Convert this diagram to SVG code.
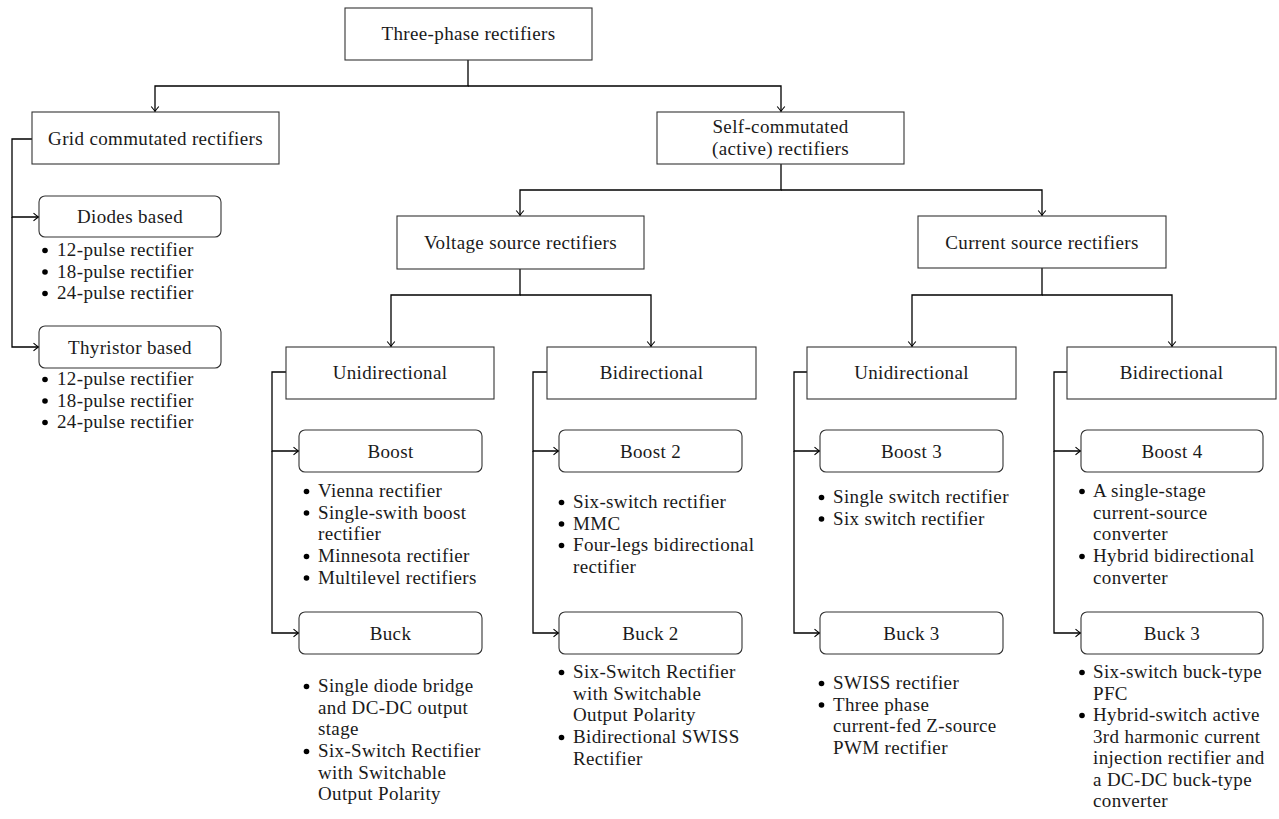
<svg xmlns="http://www.w3.org/2000/svg" width="1279" height="819" viewBox="0 0 1279 819">
<style>
.box{fill:#fff;stroke:#333;stroke-width:1.1}
.con{fill:none;stroke:#000;stroke-width:1.3}
text{font-family:"Liberation Serif","Times New Roman",serif;font-size:19px;letter-spacing:0.35px;fill:#1a1a1a}
.c{text-anchor:middle}
.b{fill:#000}
</style>
<defs>
<marker id="ah" markerWidth="10" markerHeight="10" viewBox="-6 -5 7 10" refX="0" refY="0" orient="auto" markerUnits="userSpaceOnUse">
<path d="M-5,-3.8 Q-1.8,-1 0,0 Q-1.8,1 -5,3.8" fill="none" stroke="#000" stroke-width="1.1"/>
</marker>
</defs>
<rect width="1279" height="819" fill="#fff"/>
<g id="connectors">
<path class="con" d="M468,60 V86 H155 V111.5" marker-end="url(#ah)"/>
<path class="con" d="M468,86 H781 V111.5" marker-end="url(#ah)"/>
<path class="con" d="M32,139 H12 V217 H38.5" marker-end="url(#ah)"/>
<path class="con" d="M12,217 V347 H38.5" marker-end="url(#ah)"/>
<path class="con" d="M781,164 V190 H520 V215.5" marker-end="url(#ah)"/>
<path class="con" d="M781,190 H1042 V215.5" marker-end="url(#ah)"/>
<path class="con" d="M520,269 V295 H391 V346.5" marker-end="url(#ah)"/>
<path class="con" d="M520,295 H651 V346.5" marker-end="url(#ah)"/>
<path class="con" d="M1042,268 V295 H912 V346.5" marker-end="url(#ah)"/>
<path class="con" d="M1042,295 H1172 V346.5" marker-end="url(#ah)"/>
<path class="con" d="M286,372 H272 V451 H298.5" marker-end="url(#ah)"/>
<path class="con" d="M272,451 V633 H298.5" marker-end="url(#ah)"/>
<path class="con" d="M547,372 H533 V451 H558.5" marker-end="url(#ah)"/>
<path class="con" d="M533,451 V633 H558.5" marker-end="url(#ah)"/>
<path class="con" d="M807,372 H794 V451 H819.5" marker-end="url(#ah)"/>
<path class="con" d="M794,451 V633 H819.5" marker-end="url(#ah)"/>
<path class="con" d="M1067,372 H1054 V451 H1080.5" marker-end="url(#ah)"/>
<path class="con" d="M1054,451 V633 H1080.5" marker-end="url(#ah)"/>
</g>
<g id="n-three-phase"><rect class="box" x="345" y="8" width="247" height="52"/><text class="c" x="468.5" y="40">Three-phase rectifiers</text></g>
<g id="n-grid"><rect class="box" x="32" y="112" width="247" height="52"/><text class="c" x="155.5" y="145">Grid commutated rectifiers</text></g>
<g id="n-self"><rect class="box" x="657" y="112" width="247" height="52"/><text class="c" x="780.5" y="133">Self-commutated</text><text class="c" x="780.5" y="155">(active) rectifiers</text></g>
<g id="n-voltage"><rect class="box" x="397" y="216" width="247" height="53"/><text class="c" x="520.5" y="248.5">Voltage source rectifiers</text></g>
<g id="n-current"><rect class="box" x="918" y="216" width="248" height="52"/><text class="c" x="1042" y="248.5">Current source rectifiers</text></g>
<g id="n-diodes"><rect class="box" x="39" y="196" width="182" height="41" rx="6"/><text class="c" x="130" y="223">Diodes based</text>
<circle class="b" cx="45" cy="250.5" r="2.8"/><text x="57" y="256">12-pulse rectifier</text>
<circle class="b" cx="45" cy="272" r="2.8"/><text x="57" y="277.5">18-pulse rectifier</text>
<circle class="b" cx="45" cy="293.5" r="2.8"/><text x="57" y="299">24-pulse rectifier</text></g>
<g id="n-thyristor"><rect class="box" x="39" y="326" width="182" height="42" rx="6"/><text class="c" x="130" y="353.5">Thyristor based</text>
<circle class="b" cx="45" cy="379.5" r="2.8"/><text x="57" y="385">12-pulse rectifier</text>
<circle class="b" cx="45" cy="401" r="2.8"/><text x="57" y="406.5">18-pulse rectifier</text>
<circle class="b" cx="45" cy="422.5" r="2.8"/><text x="57" y="428">24-pulse rectifier</text></g>
<g id="n-uni-v"><rect class="box" x="286" y="347" width="208" height="52"/><text class="c" x="390" y="379">Unidirectional</text></g>
<g id="n-bi-v"><rect class="box" x="547" y="347" width="209" height="52"/><text class="c" x="651.5" y="379">Bidirectional</text></g>
<g id="n-uni-c"><rect class="box" x="807" y="347" width="209" height="52"/><text class="c" x="911.5" y="379">Unidirectional</text></g>
<g id="n-bi-c"><rect class="box" x="1067" y="347" width="209" height="52"/><text class="c" x="1171.5" y="379">Bidirectional</text></g>
<g id="n-boost"><rect class="box" x="299" y="430" width="183" height="42" rx="6"/><text class="c" x="390.5" y="457.5">Boost</text>
<circle class="b" cx="306.5" cy="491.5" r="2.8"/><text x="318" y="497">Vienna rectifier</text>
<circle class="b" cx="306.5" cy="513" r="2.8"/><text x="318" y="518.5">Single-swith boost</text>
<text x="318" y="540">rectifier</text>
<circle class="b" cx="306.5" cy="556.5" r="2.8"/><text x="318" y="562">Minnesota rectifier</text>
<circle class="b" cx="306.5" cy="578" r="2.8"/><text x="318" y="583.5">Multilevel rectifiers</text></g>
<g id="n-boost2"><rect class="box" x="559" y="430" width="183" height="42" rx="6"/><text class="c" x="650.5" y="457.5">Boost 2</text>
<circle class="b" cx="561.5" cy="502.5" r="2.8"/><text x="573" y="508">Six-switch rectifier</text>
<circle class="b" cx="561.5" cy="524" r="2.8"/><text x="573" y="529.5">MMC</text>
<circle class="b" cx="561.5" cy="545.5" r="2.8"/><text x="573" y="551">Four-legs bidirectional</text>
<text x="573" y="572.5">rectifier</text></g>
<g id="n-boost3"><rect class="box" x="820" y="430" width="183" height="42" rx="6"/><text class="c" x="911.5" y="457.5">Boost 3</text>
<circle class="b" cx="821.5" cy="497.5" r="2.8"/><text x="833" y="503">Single switch rectifier</text>
<circle class="b" cx="821.5" cy="519" r="2.8"/><text x="833" y="524.5">Six switch rectifier</text></g>
<g id="n-boost4"><rect class="box" x="1081" y="430" width="182" height="42" rx="6"/><text class="c" x="1172" y="457.5">Boost 4</text>
<circle class="b" cx="1082" cy="491.5" r="2.8"/><text x="1093" y="497">A single-stage</text>
<text x="1093" y="518.5">current-source</text>
<text x="1093" y="540">converter</text>
<circle class="b" cx="1082" cy="556.5" r="2.8"/><text x="1093" y="562">Hybrid bidirectional</text>
<text x="1093" y="583.5">converter</text></g>
<g id="n-buck"><rect class="box" x="299" y="612" width="183" height="42" rx="6"/><text class="c" x="390.5" y="639.5">Buck</text>
<circle class="b" cx="306.5" cy="686.5" r="2.8"/><text x="318" y="692">Single diode bridge</text>
<text x="318" y="713.5">and DC-DC output</text>
<text x="318" y="735">stage</text>
<circle class="b" cx="306.5" cy="751.5" r="2.8"/><text x="318" y="757">Six-Switch Rectifier</text>
<text x="318" y="778.5">with Switchable</text>
<text x="318" y="800">Output Polarity</text></g>
<g id="n-buck2"><rect class="box" x="559" y="612" width="183" height="42" rx="6"/><text class="c" x="650.5" y="639.5">Buck 2</text>
<circle class="b" cx="561.5" cy="672.5" r="2.8"/><text x="573" y="678">Six-Switch Rectifier</text>
<text x="573" y="699.5">with Switchable</text>
<text x="573" y="721">Output Polarity</text>
<circle class="b" cx="561.5" cy="737.5" r="2.8"/><text x="573" y="743">Bidirectional SWISS</text>
<text x="573" y="764.5">Rectifier</text></g>
<g id="n-buck3"><rect class="box" x="820" y="612" width="183" height="42" rx="6"/><text class="c" x="911.5" y="639.5">Buck 3</text>
<circle class="b" cx="821.5" cy="683.5" r="2.8"/><text x="833" y="689">SWISS rectifier</text>
<circle class="b" cx="821.5" cy="705" r="2.8"/><text x="833" y="710.5">Three phase</text>
<text x="833" y="732">current-fed Z-source</text>
<text x="833" y="753.5">PWM rectifier</text></g>
<g id="n-buck3b"><rect class="box" x="1081" y="612" width="182" height="42" rx="6"/><text class="c" x="1172" y="639.5">Buck 3</text>
<circle class="b" cx="1082" cy="672.5" r="2.8"/><text x="1093" y="678">Six-switch buck-type</text>
<text x="1093" y="699.5">PFC</text>
<circle class="b" cx="1082" cy="715.5" r="2.8"/><text x="1093" y="721">Hybrid-switch active</text>
<text x="1093" y="742.5">3rd harmonic current</text>
<text x="1093" y="764">injection rectifier and</text>
<text x="1093" y="785.5">a DC-DC buck-type</text>
<text x="1093" y="807">converter</text></g>
</svg>
